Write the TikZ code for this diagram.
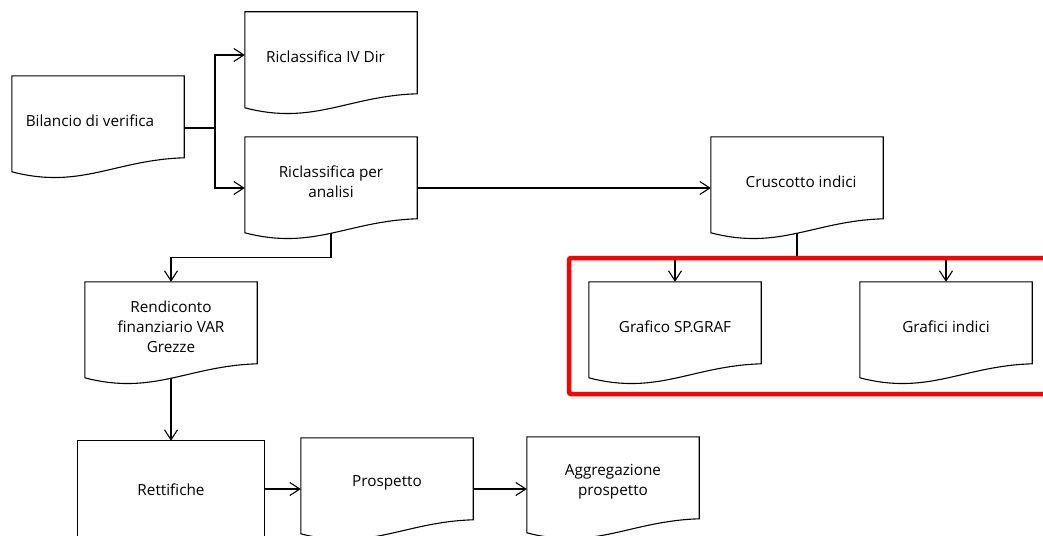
\documentclass[tikz,border=0pt]{standalone}
\usepackage{fontspec}
\setmainfont{Open Sans}
\usetikzlibrary{arrows.meta,calc}
\tikzset{
  doc/.style={rectangle,draw=none,minimum width=172pt,minimum height=90pt,inner sep=0pt,align=center,font=\fontsize{15.3}{20}\selectfont},
  docline/.style={draw=black,line width=1.1pt,line join=miter},
  conn/.style={draw=black,line width=1.1pt},
  arr/.style={conn,-{Straight Barb[length=10pt,width=13pt,line width=1.1pt]}},
  redbox/.style={draw=red,line width=4.5pt,rounded corners=2pt}
}
\newcommand\docoutline[1]{\draw[docline] (#1.north west) -- (#1.north east) -- ($(#1.north east)+(0,82)$) .. controls ($(#1.north west)+(103.2,84)$) and ($(#1.north west)+(68.8,114)$) .. ($(#1.north west)+(0,96)$) -- cycle;}
\begin{document}
\begin{tikzpicture}[x=1pt,y=-1pt]
\useasboundingbox (0,0) rectangle (1043,535);
% nodes
\node[doc] (bil) at (98,121) {\hspace*{-16pt}Bilancio di verifica};
\node[doc] (r4) at (331,57) {\hspace*{-11pt}Riclassifica IV Dir};
\node[doc] (ran) at (331,182) {Riclassifica per\\analisi};
\node[doc] (cru) at (797,182) {\hspace*{8pt}Cruscotto indici};
\node[doc] (gsp) at (675,327) {Grafico SP.GRAF};
\node[doc] (gind) at (946,327) {Grafici indici};
\node[doc] (rend) at (171,327) {Rendiconto\\finanziario VAR\\Grezze};
\node[doc] (pro) at (387,483) {Prospetto};
\node[doc] (agg) at (613,482) {Aggregazione\\prospetto};
\node[doc,minimum width=186pt,minimum height=98pt] (rett) at (171,490) {Rettifiche};
% outlines
\foreach \n in {bil,r4,ran,cru,gsp,gind,rend,pro,agg} {\docoutline{\n}}
\draw[docline] ($(rett.south west)+(0,60)$) -- (rett.north west) -- (rett.north east) -- ($(rett.south east)+(0,60)$);
% connectors
\coordinate (j1) at (215,128);
\coordinate (j2) at (797,258);
\draw[conn] (bil.east |- j1) -- (j1);
\draw[arr] (j1) |- ([yshift=2pt]r4.west);
\draw[arr] (j1) |- ([yshift=-6pt]ran.west);
\draw[arr] ([yshift=-6pt]ran.east) -- ([yshift=-6pt]cru.west);
\draw[conn] ([yshift=-6pt]cru.south) -- (j2);
\draw[arr] (j2) -| (gsp.north);
\draw[arr] (j2) -| (gind.north);
\draw[arr] ([yshift=-6pt]ran.south) -- ++(0,24) -| (rend.north);
\draw[arr] ([yshift=-6pt]rend.south) -- (rett.north);
\draw[arr] ([yshift=1pt]rett.east) -- ([yshift=1pt]rett.east -| pro.west);
\draw[arr] ([yshift=-6pt]pro.east) -- ([yshift=-6pt]pro.east -| agg.west);
% red highlight
\draw[redbox] (1070,258) -- (569,258) -- (569,394) -- (1070,394);
\end{tikzpicture}
\end{document}
